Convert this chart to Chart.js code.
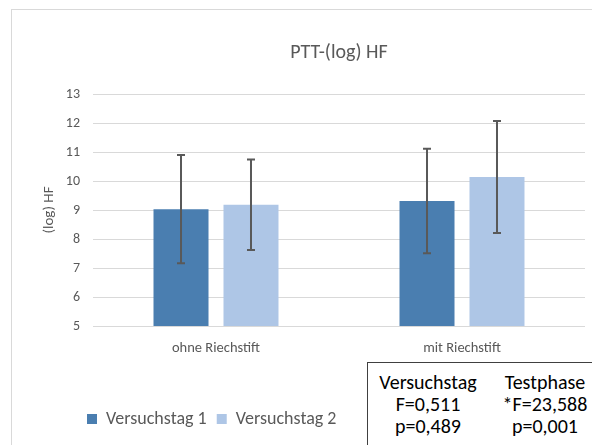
<!DOCTYPE html>
<html>
<head>
<meta charset="utf-8">
<script src="https://cdn.jsdelivr.net/npm/chart.js@4.4.1/dist/chart.umd.min.js"></script>
<style>
  html, body { margin: 0; padding: 0; background: #fff; overflow: hidden; }
  #wrap { position: relative; width: 592px; height: 445px; overflow: hidden; }
  #frame { position: absolute; left: 11px; top: 9px; width: 700px; height: 600px;
           border: 1px solid #d9d9d9; box-sizing: border-box; }
  #chart { position: absolute; left: 0; top: 0; }
  #stats { position: absolute; left: 367px; top: 362px; width: 400px; height: 200px;
           border: 1px solid #404040; background: #fff; color: #000;
           font-family: Carlito, Calibri, Lato, sans-serif; font-size: 20px; }
  #stats .col { position: absolute; top: 8px; width: 120px; text-align: center; line-height: 22px; }
</style>
</head>
<body>
<div id="wrap">
  <div id="frame"></div>
  <canvas id="chart" width="592" height="445"></canvas>
  <div id="stats">
    <div class="col" style="left:0px">Versuchstag<br>F=0,511<br>p=0,489</div>
    <div class="col" style="left:117px">Testphase<br>*F=23,588<br>p=0,001</div>
  </div>
</div>
<script>
// Categories, series and tick range
const categories = ['ohne Riechstift', 'mit Riechstift'];
const seriesNames = ['Versuchstag 1', 'Versuchstag 2'];
const day1Mean = [9.03, 9.31];
const day1Sd = [1.87, 1.80];
const day2Mean = [9.18, 10.14];
const day2Sd = [1.56, 1.93];
const yMin = 5;
const yMax = 13;
const yStep = 1;

const FONT = 'Carlito, Calibri, Lato, sans-serif';
const GREY = '#595959';
Chart.defaults.font.family = FONT;

// Draws ±SD whiskers on top of each bar, positioned through the y scale
const errorBars = {
  id: 'errorBars',
  afterDatasetsDraw(chart) {
    const { ctx } = chart;
    const y = chart.scales.y;
    ctx.save();
    ctx.strokeStyle = GREY;
    ctx.lineWidth = 2;
    chart.data.datasets.forEach((ds, i) => {
      const meta = chart.getDatasetMeta(i);
      meta.data.forEach((bar, j) => {
        const m = ds.data[j];
        const sd = ds.sd[j];
        const top = y.getPixelForValue(m + sd);
        const bot = y.getPixelForValue(m - sd);
        ctx.beginPath();
        ctx.moveTo(bar.x, top); ctx.lineTo(bar.x, bot);
        ctx.moveTo(bar.x - 4, top); ctx.lineTo(bar.x + 4, top);
        ctx.moveTo(bar.x - 4, bot); ctx.lineTo(bar.x + 4, bot);
        ctx.stroke();
      });
    });
    ctx.restore();
  }
};

// Starts the legend row a little inside the plot's left edge
const legendIndent = {
  id: 'legendIndent',
  afterLayout(chart) {
    const lg = chart.legend;
    const dx = 77 - lg.left;
    lg.left += dx;
    lg.right += dx;
  }
};

new Chart(document.getElementById('chart'), {
  type: 'bar',
  data: {
    labels: categories,
    datasets: [
      { label: seriesNames[0], data: day1Mean, sd: day1Sd, backgroundColor: '#4a7eb0',
        categoryPercentage: 0.569, barPercentage: 0.786 },
      { label: seriesNames[1], data: day2Mean, sd: day2Sd, backgroundColor: '#aec6e6',
        categoryPercentage: 0.569, barPercentage: 0.786 }
    ]
  },
  options: {
    responsive: false,
    animation: false,
    layout: { padding: { left: 36, right: 7, top: 0, bottom: 7 } },
    plugins: {
      title: {
        display: true, text: 'PTT-(log) HF', fullSize: false, color: GREY,
        font: { size: 20, weight: 'normal' }, padding: { top: 41, bottom: 29 }
      },
      legend: {
        position: 'bottom', align: 'start',
        labels: { boxWidth: 10, boxHeight: 10, padding: 10, color: GREY, font: { size: 18 } }
      },
      tooltip: { enabled: false }
    },
    scales: {
      x: {
        grid: { display: false, drawTicks: false },
        border: { display: false },
        ticks: { color: GREY, font: { size: 14.5 }, padding: 14 },
        afterFit: s => { s.height = 74; }
      },
      y: {
        min: yMin, max: yMax,
        ticks: { stepSize: yStep, color: GREY, font: { size: 14 }, padding: 13 },
        grid: { color: '#d9d9d9', drawTicks: false },
        border: { display: false },
        title: { display: true, text: '(log) HF', color: GREY, font: { size: 15 },
                 padding: { top: 4, bottom: 0 } },
        afterFit: s => { s.width = 57; }
      }
    }
  },
  plugins: [errorBars, legendIndent]
});
</script>
</body>
</html>
